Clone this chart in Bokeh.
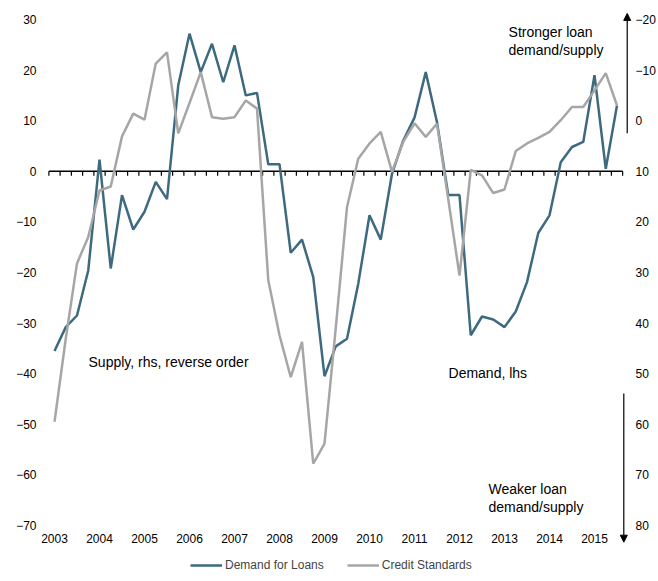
from bokeh.plotting import figure
from bokeh.models import (Range1d, LinearAxis, FixedTicker, Arrow, NormalHead,
                          Label, Legend, LegendItem)
from bokeh.embed import file_html
from bokeh.resources import INLINE

# ---------------- data (quarterly, 2003Q1 .. 2015Q3) ----------------
year_labels = ["2003", "2004", "2005", "2006", "2007", "2008", "2009",
               "2010", "2011", "2012", "2013", "2014", "2015"]
lhs_ticks = [-70, -60, -50, -40, -30, -20, -10, 0, 10, 20, 30]
rhs_ticks = [-20, -10, 0, 10, 20, 30, 40, 50, 60, 70, 80]

demand_for_loans = [-35.5, -30.8, -28.5, -19.6, 2.3, -19.2, -4.7, -11.5, -8.0, -2.1,
                    -5.5, 17.0, 27.2, 19.6, 25.2, 17.6, 24.9, 15.0, 15.5, 1.4,
                    1.4, -16.1, -13.5, -20.9, -40.5, -34.6, -33.1, -22.2, -8.7, -13.5,
                    -0.5, 6.1, 10.6, 19.6, 9.7, -4.7, -4.7, -32.4, -28.7, -29.3,
                    -30.8, -27.7, -21.9, -12.2, -8.7, 1.8, 4.8, 5.8, 19.0, 0.5, 13.0]

credit_standards = [59.5, 43.1, 28.2, 23.0, 13.8, 13.0, 3.1, -1.4, -0.2, -11.3,
                    -13.5, 2.5, -3.5, -9.6, -0.7, -0.4, -0.7, -4.0, -2.4, 31.5,
                    42.4, 50.7, 43.7, 67.8, 63.8, 41.0, 17.1, 7.5, 4.5, 2.2,
                    10.1, 4.2, 0.5, 3.2, 0.6, 15.5, 30.6, 9.7, 10.8, 14.3,
                    13.6, 6.0, 4.5, 3.4, 2.2, -0.1, -2.7, -2.7, -6.0, -9.4, -3.0]

first_year = int(year_labels[0])
x = [first_year + k / 4 for k in range(len(demand_for_loans))]
# quarter boundaries (category edges) for the small ticks on the zero line
edges = [first_year - 0.125 + k / 4 for k in range(len(demand_for_loans) + 1)]

FONT = "Liberation Sans"
DARK = "#3E6A80"
GREY = "#A6A6A6"

# lhs value v  <->  rhs value 10 - v (reversed secondary axis)
Y_TOP, Y_BOT = 31.78, -81.07
p = figure(width=658, height=581,
           x_range=Range1d(2002.6, 2015.8444), y_range=Range1d(Y_BOT, Y_TOP),
           output_backend="svg", toolbar_location=None,
           min_border_left=36, min_border_right=26, min_border_top=10, min_border_bottom=0)
p.extra_y_ranges = {"rhs": Range1d(10 - Y_BOT, 10 - Y_TOP)}

p.outline_line_color = None
p.xgrid.visible = False
p.ygrid.visible = False

# left axis
p.yaxis.ticker = FixedTicker(ticks=lhs_ticks)
# bottom axis (labels only), pinned at the bottom of the lhs scale
p.xaxis.ticker = FixedTicker(ticks=[int(s) for s in year_labels])
p.xaxis.major_label_overrides = {int(s): s for s in year_labels}
p.xaxis.fixed_location = lhs_ticks[0]

right = LinearAxis(y_range_name="rhs", ticker=FixedTicker(ticks=rhs_ticks))
p.add_layout(right, "right")

for ax in [p.yaxis[0], p.xaxis[0], right]:
    ax.axis_line_color = None
    ax.major_tick_line_color = None
    ax.minor_tick_line_color = None
    ax.major_tick_out = 0
    ax.major_tick_in = 0
    ax.minor_tick_out = 0
    ax.minor_tick_in = 0
    ax.major_label_text_font = FONT
    ax.major_label_text_font_size = "12px"
    ax.major_label_text_color = "black"
p.yaxis[0].major_label_standoff = 0
right.major_label_standoff = 3
p.xaxis[0].major_label_standoff = 9

# zero line with quarterly ticks
p.segment(x0=[edges[0]], y0=[0], x1=[edges[-1]], y1=[0], line_color="black", line_width=1.5)
p.segment(x0=edges, y0=[0] * len(edges), x1=edges, y1=[-0.9] * len(edges),
          line_color="black", line_width=1.2)

r_dem = p.line(x, demand_for_loans, line_color=DARK, line_width=2.5)
r_cred = p.line(x, credit_standards, line_color=GREY, line_width=2.5, y_range_name="rhs")

# arrows
p.add_layout(Arrow(end=NormalHead(size=7, fill_color="black", line_color="black"),
                   x_start=2015.727, y_start=7.5, x_end=2015.727, y_end=31.2,
                   line_color="black", line_width=1.2))
p.add_layout(Arrow(end=NormalHead(size=7, fill_color="black", line_color="black"),
                   x_start=2015.651, y_start=-43.9, x_end=2015.651, y_end=-73.3,
                   line_color="black", line_width=1.2))

def lab(xv, yv, txt):
    p.add_layout(Label(x=xv, y=yv, text=txt, text_font=FONT, text_font_size="14px",
                       text_baseline="middle", text_align="left", text_color="black"))

lab(2013.09, 27.5, "Stronger loan")
lab(2013.09, 23.9, "demand/supply")
lab(2012.644, -62.8, "Weaker loan")
lab(2012.644, -66.4, "demand/supply")
lab(2003.756, -37.7, "Supply, rhs, reverse order")
lab(2011.756, -39.9, "Demand, lhs")

legend = Legend(items=[LegendItem(label="Demand for Loans", renderers=[r_dem]),
                       LegendItem(label="Credit Standards", renderers=[r_cred])],
                location=(154, 9), orientation="horizontal",
                border_line_color=None, background_fill_alpha=0,
                padding=0, margin=0, spacing=23, glyph_width=32, glyph_height=14,
                label_height=14, label_standoff=3,
                label_text_font=FONT, label_text_font_size="12px")
p.add_layout(legend)

open("out.html", "w").write(file_html(p, INLINE))
